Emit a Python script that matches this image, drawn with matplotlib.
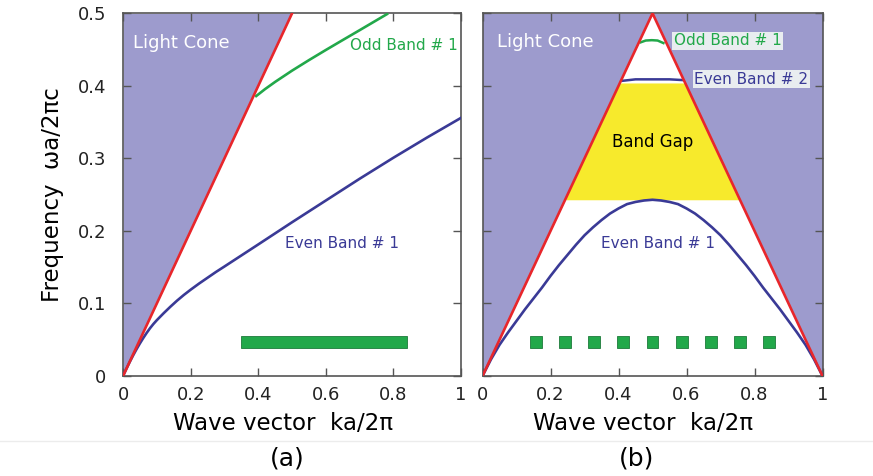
import numpy as np
import matplotlib
matplotlib.use("Agg")
import matplotlib.pyplot as plt
from matplotlib.patches import Rectangle
from matplotlib.lines import Line2D

# ---------------- data ----------------
# panel (a): uniform waveguide
light_a_x = [0.0, 0.5]
light_a_y = [0.0, 0.5]
even1_a_x = [0.0, 0.01, 0.02, 0.03, 0.04, 0.05, 0.06, 0.07, 0.08, 0.09, 0.1, 0.12, 0.14, 0.16,
             0.18, 0.2, 0.225, 0.25, 0.275, 0.3, 0.35, 0.4, 0.45, 0.5, 0.6, 0.7, 0.8, 0.9, 1.0]
even1_a_y = [0.0, 0.0099, 0.0195, 0.0285, 0.037, 0.045, 0.0525, 0.0595, 0.066, 0.0718, 0.077,
             0.0865, 0.0955, 0.104, 0.1118, 0.119, 0.1275, 0.1355, 0.1435, 0.151, 0.1662, 0.1814,
             0.1967, 0.212, 0.242, 0.272, 0.301, 0.329, 0.356]
odd1_a_x = [0.394, 0.42, 0.45, 0.5, 0.55, 0.6, 0.65, 0.7, 0.75, 0.781]
odd1_a_y = [0.386, 0.3955, 0.4055, 0.421, 0.4355, 0.4495, 0.4632, 0.4768, 0.4905, 0.499]
bar_a = (0.35, 0.84, 0.039, 0.055)  # x0, x1, y0, y1

# panel (b): periodic waveguide
light_b_x = [0.0, 0.5, 1.0]
light_b_y = [0.0, 0.5, 0.0]
even1_b_x = [0.0, 0.025, 0.05, 0.075, 0.1, 0.125, 0.15, 0.175, 0.2, 0.225, 0.25, 0.275, 0.3,
             0.325, 0.35, 0.375, 0.4, 0.425, 0.45, 0.475, 0.5,
             0.525, 0.55, 0.575, 0.6, 0.625, 0.65, 0.675, 0.7, 0.725, 0.75, 0.775, 0.8,
             0.825, 0.85, 0.875, 0.9, 0.925, 0.95, 0.975, 1.0]
even1_b_y = [0.0, 0.023, 0.043, 0.060, 0.076, 0.092, 0.107, 0.122, 0.138, 0.153, 0.167, 0.181, 0.194,
             0.205, 0.215, 0.224, 0.231, 0.237, 0.240, 0.242, 0.243,
             0.242, 0.240, 0.237, 0.231, 0.224, 0.215, 0.205, 0.194, 0.181, 0.167, 0.153, 0.138,
             0.122, 0.107, 0.092, 0.076, 0.060, 0.043, 0.023, 0.0]
even2_b_x = [0.412, 0.45, 0.5, 0.55, 0.588]
even2_b_y = [0.407, 0.409, 0.409, 0.409, 0.408]
odd1_b_x = [0.465, 0.48, 0.498, 0.515, 0.532]
odd1_b_y = [0.460, 0.4625, 0.463, 0.4625, 0.459]
gap_lo, gap_hi = 0.243, 0.404
squares_b_x = [0.157, 0.243, 0.328, 0.414, 0.5, 0.586, 0.672, 0.758, 0.843]
square_y = (0.039, 0.055)
square_w = 0.035

xticks = [0, 0.2, 0.4, 0.6, 0.8, 1]
xtick_labels = ["0", "0.2", "0.4", "0.6", "0.8", "1"]
yticks = [0, 0.1, 0.2, 0.3, 0.4, 0.5]
ytick_labels = ["0", "0.1", "0.2", "0.3", "0.4", "0.5"]

# ---------------- style ----------------
cone_c = "#9d9bcd"
red_c = "#e8262b"
blue_c = "#3a3a96"
green_c = "#22a84a"
yellow_c = "#f7ea2c"
spine_c = "#555555"
font = "DejaVu Sans"
plt.rcParams["font.family"] = [font]
lw = 1.9
lab_fs = 11

fig = plt.figure(figsize=(8.73, 4.76), dpi=100)
axa = fig.add_axes([0.1409, 0.210, 0.3873, 0.762])
axb = fig.add_axes([0.5527, 0.210, 0.3895, 0.762])

for ax in (axa, axb):
    ax.set_xlim(0, 1)
    ax.set_ylim(0, 0.5)
    ax.set_xticks(xticks)
    ax.set_xticklabels(xtick_labels, fontsize=13, color="#222222")
    ax.set_yticks(yticks)
    ax.tick_params(direction="in", length=6, width=1, color=spine_c,
                   top=True, right=True, pad=7)
    for s in ax.spines.values():
        s.set_color(spine_c)
        s.set_linewidth(1.2)
    ax.set_xlabel("Wave vector  ka/2\u03c0", fontsize=16.5)
    ax.xaxis.set_label_coords(0.472, -0.099)
    ax.set_facecolor("white")

axa.set_yticklabels(ytick_labels, fontsize=13, color="#222222")
axa.tick_params(axis="y", pad=12)
axb.set_yticklabels([])
axa.set_ylabel("Frequency  \u03c9a/2\u03c0c", fontsize=16.5, labelpad=10)

# ----- panel (a) -----
xa = np.array(light_a_x)
ya = np.array(light_a_y)
axa.fill_between(xa, ya, 0.5, color=cone_c, lw=0, zorder=1)
axa.plot(light_a_x, light_a_y, color=red_c, lw=lw, zorder=4)
axa.plot(even1_a_x, even1_a_y, color=blue_c, lw=lw, zorder=3)
axa.plot(odd1_a_x, odd1_a_y, color=green_c, lw=lw, zorder=3)
axa.add_patch(Rectangle((bar_a[0], bar_a[2]), bar_a[1] - bar_a[0], bar_a[3] - bar_a[2],
                        facecolor=green_c, edgecolor="#1d7a3a", lw=0.6, zorder=3))
axa.text(0.03, 0.459, "Light Cone", color="white", fontsize=13, va="center", ha="left", zorder=5)
axa.text(0.67, 0.455, "Odd Band # 1", color=green_c, fontsize=lab_fs, va="center", ha="left", zorder=5)
axa.text(0.48, 0.183, "Even Band # 1", color=blue_c, fontsize=lab_fs, va="center", ha="left", zorder=5)

# ----- panel (b) -----
xb = np.array(light_b_x)
yb = np.array(light_b_y)
axb.fill_between(xb, yb, 0.5, color=cone_c, lw=0, zorder=1)
# band gap region inside the light cone
xg = np.linspace(0, 1, 401)
cone_line = np.interp(xg, xb, yb)
top = np.minimum(cone_line, gap_hi)
axb.fill_between(xg, gap_lo, top, where=cone_line >= gap_lo, color=yellow_c, lw=0, zorder=2)
axb.plot(light_b_x, light_b_y, color=red_c, lw=lw, zorder=4)
axb.plot(even1_b_x, even1_b_y, color=blue_c, lw=lw, zorder=3)
axb.plot(even2_b_x, even2_b_y, color=blue_c, lw=1.8, zorder=3)
axb.plot(odd1_b_x, odd1_b_y, color=green_c, lw=1.8, zorder=3)
for cx in squares_b_x:
    axb.add_patch(Rectangle((cx - square_w / 2, square_y[0]), square_w, square_y[1] - square_y[0],
                            facecolor=green_c, edgecolor="#1d7a3a", lw=0.6, zorder=3))
axb.text(0.042, 0.46, "Light Cone", color="white", fontsize=13, va="center", ha="left", zorder=5)
bb = dict(boxstyle="square,pad=0.1", facecolor="#e9edf0", edgecolor="none")
axb.text(0.563, 0.462, "Odd Band # 1", color=green_c, fontsize=lab_fs, va="center", ha="left",
         zorder=5, bbox=bb)
axb.text(0.623, 0.409, "Even Band # 2", color=blue_c, fontsize=lab_fs, va="center", ha="left",
         zorder=5, bbox=bb)
axb.text(0.5, 0.322, "Band Gap", color="black", fontsize=12, va="center", ha="center", zorder=5)
axb.text(0.348, 0.183, "Even Band # 1", color=blue_c, fontsize=lab_fs, va="center", ha="left", zorder=5)

# faint divider and panel letters
fig.add_artist(Line2D([0, 1], [0.0735, 0.0735], transform=fig.transFigure, color="#ececec", lw=1))
fig.text(0.3293, 0.037, "(a)", fontsize=18, ha="center", va="center")
fig.text(0.7297, 0.037, "(b)", fontsize=18, ha="center", va="center")

fig.savefig("out.png", dpi=100)
